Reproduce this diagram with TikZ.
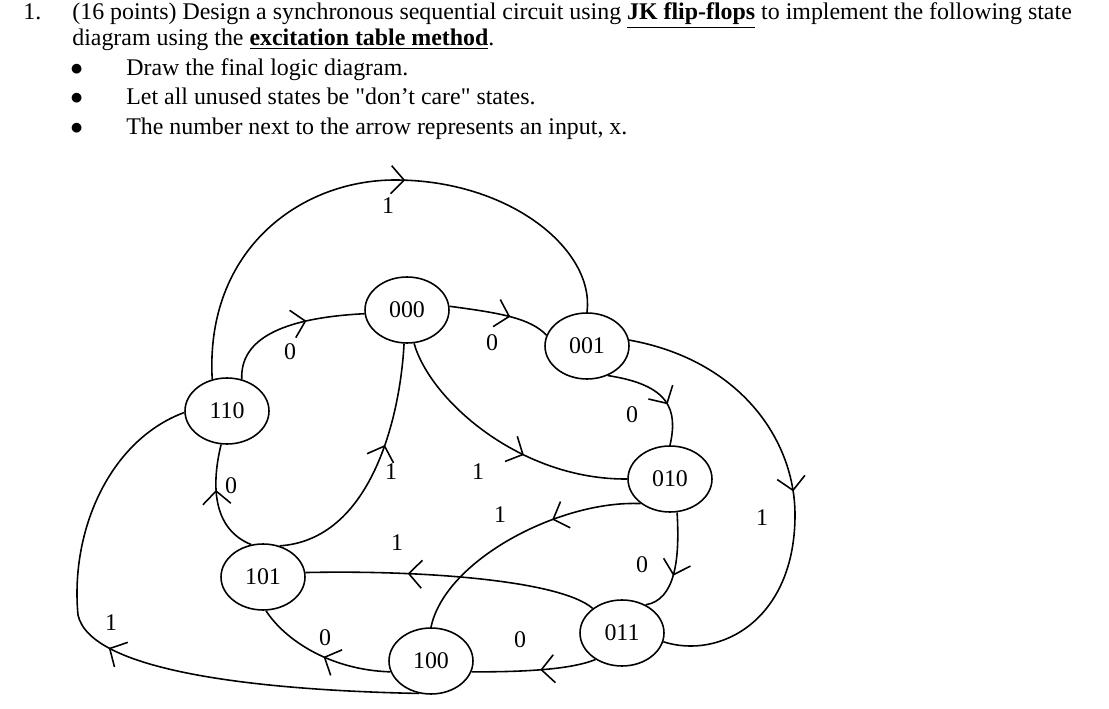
\documentclass[tikz,border=0pt]{standalone}
\usepackage{fontspec}
\setmainfont{Liberation Serif}
\usetikzlibrary{arrows.meta,decorations.markings,shapes.geometric}

\tikzset{
  state/.style={ellipse,draw,line width=0.9pt,minimum width=1.68cm,minimum height=1.32cm,inner sep=0pt},
  flow/.style={line width=0.9pt,postaction={decorate},
    decoration={markings,mark=at position #1 with {\arrow{Straight Barb[length=2.6mm,width=5.6mm,line width=0.9pt]}}}},
  flow/.default=0.5,
  inp/.style={inner sep=1pt},
  txt/.style={anchor=base west,inner sep=0pt}
}

\begin{document}
\begin{tikzpicture}[x=0.02cm,y=-0.02cm,font=\fontsize{13.6}{16}\selectfont]
    \useasboundingbox (0,0) rectangle (1109,709);

    % question
    \node[txt] (q1) at (23,20) {1.};
    \node[txt] (q2) at (72,20) {(16 points) Design a synchronous sequential circuit using \underline{\textbf{JK flip-flops}} to implement the following state};
    \node[txt] (q3) at (72,46) {diagram using the \underline{\textbf{excitation table method}}.};
    \foreach \t [count=\i] in {Draw the final logic diagram.,
                               Let all unused states be \textquotedbl don't care\textquotedbl{} states.,
                               {The number next to the arrow represents an input, x.}}{
      \node[txt] (b\i) at (70,46+29.5*\i) {$\bullet$};
      \node[txt] (l\i) at (126,46+29.5*\i) {\t};
    }

    % states
    \node[state] (s000) at (407,310) {000};
    \node[state] (s001) at (587,346) {001};
    \node[state] (s110) at (227,411) {110};
    \node[state] (s010) at (670,479) {010};
    \node[state] (s101) at (263,577) {101};
    \node[state] (s011) at (622,633) {011};
    \node[state] (s100) at (431,661) {100};

    % transitions
    \draw[flow=0.56] (s110.115) .. controls (205,250) and (300,180) .. (395,180)
                     .. controls (510,180) and (595,250) .. (s001.north);
    \draw[flow=0.62] (s110.65) .. controls (240,340) and (280,318) .. (s000.185);
    \draw[flow=0.6] (s000.5) .. controls (500,313) and (530,318) .. (s001.165);
    \draw[flow=0.5] (s001.8) .. controls (740,360) and (795,440) .. (795,515)
                     .. controls (795,620) and (720,660) .. (s011.-12);
    \draw[flow=0.62] (s001.-55) .. controls (670,385) and (678,410) .. (s010.north);
    \draw[flow=0.6] (s000.-78) .. controls (430,400) and (520,480) .. (s010.west);
    \draw[flow=0.6] (s101.62) .. controls (370,540) and (400,420) .. (s000.-95);
    \draw[flow=0.6] (s101.110) .. controls (215,530) and (210,490) .. (s110.-100);
    \draw[flow=0.35] (s010.-140) .. controls (560,500) and (445,560) .. (s100.north);
    \draw[flow=0.6] (s010.-78) .. controls (680,560) and (675,600) .. (s011.50);
    \draw[flow=0.65] (s011.140) .. controls (560,580) and (420,570) .. (s101.6);
    \draw[flow=0.45] (s011.-135) .. controls (570,670) and (520,672) .. (s100.-15);
    \draw[flow=0.48] (s100.-165) .. controls (330,670) and (285,640) .. (s101.-85);
    \draw[flow=0.52] (s100.-110) .. controls (250,690) and (90,670) .. (78,615)
                      .. controls (70,530) and (110,440) .. (s110.182);

    % inputs
    \node[inp] (i1) at (388,206) {1};
    \node[inp] (i2) at (290,352) {0};
    \node[inp] (i3) at (492,343) {0};
    \node[inp] (i4) at (762,518) {1};
    \node[inp] (i5) at (632,415) {0};
    \node[inp] (i6) at (478,472) {1};
    \node[inp] (i7) at (391,472) {1};
    \node[inp] (i8) at (231,486) {0};
    \node[inp] (i9) at (500,515) {1};
    \node[inp] (i10) at (642,565) {0};
    \node[inp] (i11) at (397,543) {1};
    \node[inp] (i12) at (520,640) {0};
    \node[inp] (i13) at (325,638) {0};
    \node[inp] (i14) at (111,623) {1};
\end{tikzpicture}
\end{document}
